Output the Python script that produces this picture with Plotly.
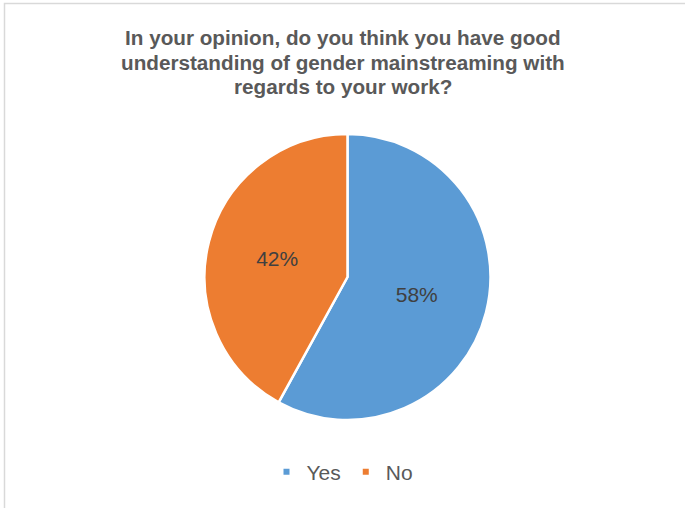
import plotly.graph_objects as go

# Survey responses
answers = ["Yes", "No"]
shares = [58, 42]
slice_colors = ["#5B9BD5", "#ED7D31"]

title_lines = [
    "In your opinion, do you think you have good",
    "understanding of gender mainstreaming with",
    "regards to your work?",
]

W, H = 685, 508
FONT = "Liberation Sans, Arial, sans-serif"

fig = go.Figure()

fig.add_trace(
    go.Pie(
        labels=answers,
        values=shares,
        sort=False,
        direction="clockwise",
        rotation=0,
        marker=dict(colors=slice_colors, line=dict(color="white", width=2.5)),
        textinfo="percent",
        texttemplate="%{percent:.0%}",
        textposition="inside",
        insidetextorientation="horizontal",
        textfont=dict(family=FONT, size=21, color="#404040"),
        hoverinfo="label+percent",
        showlegend=False,
        domain=dict(x=[204.5 / W, 490.5 / W], y=[(H - 420) / H, (H - 134) / H]),
    )
)

# Legend entries with small square keys
for name, color in zip(answers, slice_colors):
    fig.add_trace(
        go.Scatter(
            x=[None],
            y=[None],
            mode="markers",
            name=name,
            marker=dict(symbol="square", size=6, color=color),
            showlegend=True,
            hoverinfo="skip",
        )
    )

# Title, one annotation per line
title_annotations = [
    dict(
        text=line,
        xref="paper",
        yref="paper",
        x=0.5,
        xanchor="center",
        y=1 - (38 + 24 * i) / H,
        yanchor="middle",
        showarrow=False,
        font=dict(family=FONT, size=20.7, color="#595959", weight="bold"),
    )
    for i, line in enumerate(title_lines)
]

fig.update_layout(
    width=W,
    height=H,
    margin=dict(l=0, r=0, t=0, b=0),
    paper_bgcolor="white",
    plot_bgcolor="white",
    xaxis=dict(visible=False),
    yaxis=dict(visible=False),
    annotations=title_annotations,
    legend=dict(
        orientation="h",
        x=0.5,
        xanchor="center",
        y=(H - 472) / H,
        yanchor="middle",
        font=dict(family=FONT, size=21, color="#595959"),
        itemwidth=30,
        bgcolor="rgba(0,0,0,0)",
    ),
    shapes=[
        dict(
            type="rect",
            xref="paper",
            yref="paper",
            x0=4.5 / W,
            x1=1.05,
            y0=-0.05,
            y1=1 - 3.5 / H,
            line=dict(color="#D9D9D9", width=1.5),
            fillcolor="rgba(0,0,0,0)",
            layer="below",
        )
    ],
)

fig.write_html("out.html")
